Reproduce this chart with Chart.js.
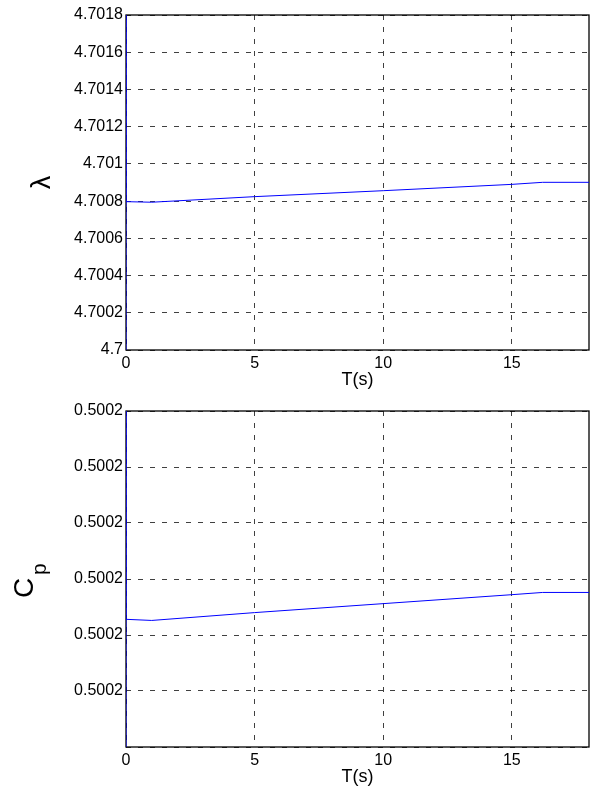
<!DOCTYPE html>
<html>
<head>
<meta charset="utf-8">
<script src="https://cdn.jsdelivr.net/npm/chart.js@4"></script>
<style>
  body { margin: 0; background: #fff; }
  .wrap { position: relative; width: 595px; height: 794px; }
  canvas { position: absolute; left: 0; }
</style>
</head>
<body>
<div class="wrap">
  <canvas id="lambdaChart" width="595" height="397" style="top:0"></canvas>
  <canvas id="cpChart" width="595" height="397" style="top:397px"></canvas>
</div>
<script>
// time samples (s); the first three points are the start-up spike at t = 0
const timeS = [0, 0, 0, 1, 5, 10, 15, 16.2, 18];
const lambdaVals = [4.6990, 4.7030, 4.700797, 4.700794, 4.700824, 4.700856, 4.700890, 4.700901, 4.700901];
const cpVals = [0.50010, 0.50030, 0.5001814, 0.5001813, 0.5001820, 0.5001828, 0.5001836, 0.5001838, 0.5001838];

const timeTicks = [0, 5, 10, 15];
const lambdaTicks = [4.7, 4.7002, 4.7004, 4.7006, 4.7008, 4.701, 4.7012, 4.7014, 4.7016, 4.7018];
const cpTicks = [0.50017, 0.500175, 0.50018, 0.500185, 0.50019, 0.500195, 0.5002];

const FONT = "'Liberation Sans', Arial, sans-serif";

// draw the black frame around the plot area (under the data line)
const framePlugin = {
  id: 'frame',
  beforeDatasetsDraw(chart) {
    const a = chart.chartArea;
    const ctx = chart.ctx;
    ctx.save();
    ctx.strokeStyle = '#000';
    ctx.lineWidth = 1.3;
    ctx.strokeRect(a.left, a.top, a.right - a.left, a.bottom - a.top);
    ctx.restore();
  }
};

// C with subscript p, rotated like the matlab ylabel
const cpLabelPlugin = {
  id: 'cpLabel',
  afterDraw(chart) {
    const ctx = chart.ctx;
    ctx.save();
    ctx.translate(33, 201);
    ctx.rotate(-Math.PI / 2);
    ctx.fillStyle = '#000';
    ctx.textAlign = 'left';
    ctx.textBaseline = 'alphabetic';
    ctx.font = '28px ' + FONT;
    ctx.fillText('C', 0, 0);
    ctx.font = '21px ' + FONT;
    ctx.fillText('p', 23, 13);
    ctx.restore();
  }
};

function makeChart(id, yVals, yTicks, yMin, yMax, yTitle, yLabel, padTop) {
  const ctx = document.getElementById(id).getContext('2d');
  return new Chart(ctx, {
    type: 'scatter',
    data: {
      datasets: [{
        data: timeS.map((t, i) => ({ x: t, y: yVals[i] })),
        showLine: true,
        borderColor: '#0000ff',
        borderWidth: 1,
        pointRadius: 0,
        tension: 0
      }]
    },
    plugins: yLabel ? [framePlugin] : [framePlugin, cpLabelPlugin],
    options: {
      responsive: false,
      animation: false,
      layout: { padding: { top: padTop, right: 6, left: 0, bottom: 0 } },
      plugins: { legend: { display: false }, tooltip: { enabled: false } },
      scales: {
        x: {
          type: 'linear',
          min: 0,
          max: 18,
          afterBuildTicks: (s) => { s.ticks = timeTicks.map(v => ({ value: v })); },
          afterFit: (s) => { s.height = 47; },
          grid: { color: 'rgba(0,0,0,0.75)', lineWidth: 1, drawTicks: false },
          border: { display: false, dash: [5, 7] },
          ticks: { color: '#000', padding: 4, maxRotation: 0, font: { family: FONT, size: 16 } },
          title: {
            display: true,
            text: 'T(s)',
            color: '#000',
            font: { family: FONT, size: 18 },
            padding: { top: 0, bottom: 6 }
          }
        },
        y: {
          type: 'linear',
          min: yMin,
          max: yMax,
          afterBuildTicks: (s) => { s.ticks = yTicks.map(v => ({ value: v })); },
          afterFit: (s) => { s.width = 126; },
          grid: { color: 'rgba(0,0,0,0.75)', lineWidth: 1, drawTicks: false },
          border: { display: false, dash: [5, 7] },
          ticks: {
            color: '#000',
            padding: 3,
            font: { family: FONT, size: 16 },
            callback: yTitle
          },
          title: {
            display: !!yLabel,
            text: yLabel || '',
            color: '#000',
            font: { family: FONT, size: 27 },
            padding: { top: 26, bottom: 0 }
          }
        }
      }
    }
  });
}

makeChart('lambdaChart', lambdaVals, lambdaTicks, 4.7, 4.7018,
  (v) => String(Number(v.toFixed(4))), 'λ', 15);

makeChart('cpChart', cpVals, cpTicks, 0.50017, 0.5002,
  (v) => (v <= cpTicks[0] ? '' : v.toFixed(4)), null, 14);
</script>
</body>
</html>
